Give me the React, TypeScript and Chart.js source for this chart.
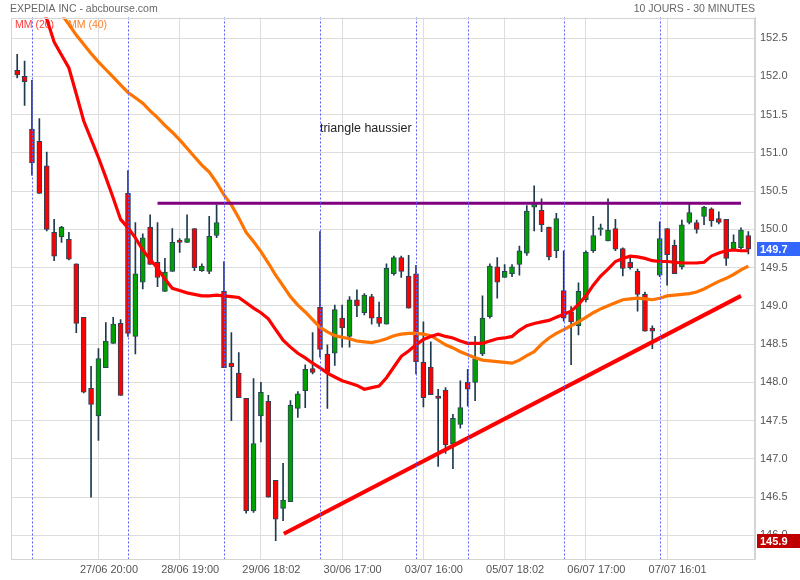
import React, { useEffect, useRef } from "react";
import { Chart, registerables } from "chart.js";

Chart.register(...registerables);

// ---- data (30-minute candles, 26/06 21:00 .. 07/07 21:30) ----
const opens = [
  152.08, 152.0, 151.31, 151.15, 150.83, 149.96, 149.9, 149.87, 149.55, 148.85,
  147.92, 147.56, 148.19, 148.51, 148.77, 150.47, 148.6, 149.31, 150.03, 149.57,
  149.19, 149.45, 149.86, 149.83, 150.01, 149.46, 149.45, 149.92, 149.19, 148.25,
  148.12, 147.79, 146.32, 147.56, 147.75, 146.72, 146.35, 146.44, 147.66, 147.89,
  148.18, 148.98, 148.37, 148.38, 148.84, 148.6, 149.08, 148.91, 149.12, 148.85,
  148.76, 149.42, 149.63, 149.39, 149.42, 148.26, 148.2, 147.82, 147.9, 147.19,
  147.45, 148.0, 148.0, 148.37, 148.86, 149.51, 149.37, 149.42, 149.54, 149.69,
  150.29, 150.25, 150.03, 149.72, 149.2, 148.92, 148.74, 149.08, 149.72, 150.0,
  149.85, 150.01, 149.75, 149.57, 149.45, 149.15, 148.71, 149.4, 150.01, 149.79,
  149.51, 150.09, 150.09, 150.17, 150.27, 150.14, 150.13, 149.74, 149.76, 149.92,
];
const highs = [
  152.29, 152.2, 151.95, 151.45, 151.01, 150.13, 150.04, 149.96, 149.55, 148.85,
  148.21, 148.44, 148.78, 148.85, 148.82, 150.77, 150.09, 149.94, 150.19, 150.09,
  149.62, 150.01, 149.88, 150.19, 150.01, 149.55, 150.17, 150.32, 149.58, 148.65,
  148.39, 147.79, 148.05, 148.0, 147.83, 146.72, 146.94, 147.76, 147.88, 148.23,
  148.65, 149.97, 148.49, 149.01, 149.01, 149.12, 149.21, 149.16, 149.15, 149.05,
  149.55, 149.65, 149.65, 149.66, 149.53, 148.79, 148.53, 147.91, 147.93, 147.58,
  148.02, 148.17, 148.6, 149.13, 149.55, 149.63, 149.54, 149.54, 149.78, 150.31,
  150.57, 150.4, 150.03, 150.21, 149.72, 148.99, 149.3, 149.72, 150.17, 150.07,
  150.4, 150.13, 149.76, 149.66, 149.48, 149.18, 148.74, 150.1, 150.01, 149.86,
  150.12, 150.33, 150.12, 150.3, 150.28, 150.23, 150.13, 149.93, 150.02, 149.97,
];
const lows = [
  151.98, 151.62, 150.71, 150.47, 149.98, 149.59, 149.83, 149.6, 148.65, 147.86,
  146.5, 147.24, 148.19, 148.51, 147.83, 148.6, 148.37, 149.22, 149.54, 149.25,
  149.19, 149.45, 149.7, 149.83, 149.46, 149.45, 149.42, 149.89, 148.19, 147.5,
  147.8, 146.29, 146.3, 147.22, 146.5, 145.93, 146.19, 146.44, 147.54, 147.67,
  148.11, 148.33, 147.66, 148.22, 148.46, 148.46, 148.86, 148.88, 148.76, 148.73,
  148.76, 149.4, 149.37, 148.97, 148.11, 147.68, 147.84, 146.9, 147.07, 146.87,
  147.4, 147.69, 147.76, 148.35, 148.84, 149.1, 149.37, 149.38, 149.4, 149.66,
  149.98, 149.97, 149.6, 149.63, 148.8, 148.23, 148.62, 149.05, 149.7, 149.92,
  149.85, 149.72, 149.39, 149.48, 148.93, 148.67, 148.44, 149.38, 149.27, 149.42,
  149.48, 150.07, 149.95, 150.06, 150.04, 150.07, 149.53, 149.72, 149.74, 149.68,
];
const closes = [
  152.02, 151.93, 150.87, 150.47, 150.0, 149.65, 150.03, 149.61, 148.77, 147.87,
  147.71, 148.31, 148.54, 148.76, 147.83, 148.64, 149.42, 149.89, 149.54, 149.37,
  149.44, 149.83, 149.83, 149.88, 149.5, 149.52, 149.91, 150.09, 148.19, 148.2,
  147.8, 146.32, 147.2, 147.87, 146.5, 146.21, 146.46, 147.7, 147.85, 148.17,
  148.13, 148.43, 148.13, 148.95, 148.71, 149.08, 149.0, 149.14, 148.84, 148.77,
  149.49, 149.63, 149.45, 148.97, 148.27, 147.8, 147.84, 147.79, 147.18, 147.53,
  147.67, 147.91, 148.31, 148.84, 149.52, 149.31, 149.45, 149.51, 149.72, 150.24,
  150.34, 150.06, 149.64, 150.14, 148.84, 148.79, 149.19, 149.7, 149.92, 150.02,
  149.99, 149.74, 149.49, 149.5, 149.15, 148.67, 148.67, 149.88, 149.67, 149.42,
  150.06, 150.22, 150.0, 150.29, 150.11, 150.09, 149.62, 149.83, 149.99, 149.74,
];
const ma20 = [
  153.6, 153.38, 153.17, 152.97, 152.75, 152.45, 152.28, 152.11, 151.77, 151.42,
  151.18, 150.94, 150.68, 150.41, 150.13, 150.02, 149.89, 149.73, 149.61, 149.49,
  149.35, 149.23, 149.2, 149.17, 149.15, 149.13, 149.13, 149.14, 149.13, 149.12,
  149.11, 149.04, 148.97, 148.91, 148.83, 148.69, 148.55, 148.46, 148.38, 148.32,
  148.25, 148.19, 148.12, 148.07, 148.02, 147.99, 147.96, 147.91, 147.93, 147.95,
  148.06, 148.2, 148.34, 148.41, 148.49, 148.56, 148.6, 148.63, 148.6, 148.58,
  148.54, 148.51, 148.51, 148.51, 148.54, 148.57, 148.58, 148.6, 148.68, 148.74,
  148.77, 148.79, 148.81, 148.85, 148.89, 148.93, 149.02, 149.13, 149.27, 149.39,
  149.48, 149.58, 149.62, 149.65, 149.64, 149.62, 149.59, 149.58, 149.58, 149.57,
  149.56, 149.56, 149.56, 149.57, 149.65, 149.69, 149.72, 149.73, 149.72, 149.72,
];
const ma40 = [
  153.62, 153.49, 153.35, 153.22, 153.09, 152.96, 152.81, 152.68, 152.54, 152.42,
  152.3, 152.19, 152.09, 151.99, 151.89, 151.79, 151.72, 151.65, 151.55, 151.46,
  151.36, 151.27, 151.17, 151.06, 150.95, 150.84, 150.75, 150.61, 150.45, 150.32,
  150.15, 149.96, 149.84, 149.71, 149.56, 149.4, 149.26, 149.12, 149.01, 148.92,
  148.82, 148.72, 148.66, 148.61, 148.59, 148.57, 148.54, 148.53, 148.52, 148.54,
  148.57, 148.61, 148.63, 148.64, 148.64, 148.63, 148.61, 148.55, 148.49, 148.45,
  148.4, 148.36, 148.32, 148.29, 148.28, 148.27, 148.26, 148.25, 148.29, 148.35,
  148.4, 148.5, 148.58, 148.64, 148.69, 148.74, 148.79, 148.85, 148.91, 148.96,
  149.0, 149.04, 149.08, 149.09, 149.1, 149.09, 149.08, 149.1, 149.13, 149.14,
  149.15, 149.16, 149.18, 149.22, 149.27, 149.32, 149.36, 149.41, 149.47, 149.52,
];

const xTickIndex = [11, 22, 33, 44, 55, 66, 77, 88];
const xTickLabels = [
  "27/06 20:00", "28/06 19:00", "29/06 18:02", "30/06 17:00",
  "03/07 16:00", "05/07 18:02", "06/07 17:00", "07/07 16:01",
];
const yTicks = [146.0, 146.5, 147.0, 147.5, 148.0, 148.5, 149.0, 149.5, 150.0, 150.5, 151.0, 151.5, 152.0, 152.5];
const daySeparators = [2, 15, 28, 41, 54, 61, 74, 87];
const resistanceLine = [{ x: 19, y: 150.34 }, { x: 98, y: 150.34 }];
const supportLine = [{ x: 36.1, y: 146.02 }, { x: 98, y: 149.13 }];
const annotation = { text: "triangle haussier", x: 47.2, y: 151.32 };

const X_MIN = -0.84;
const X_MAX = 99.9;
const Y_MIN = 145.69;
const Y_MAX = 152.77;

const FONT = '"Liberation Sans", Arial, sans-serif';

export default function App() {
  const ref = useRef<HTMLCanvasElement>(null);

  useEffect(() => {
    const canvas = ref.current;
    if (!canvas) return;
    const idx = opens.map((_, i) => i);
    const up = idx.map((i) => closes[i] >= opens[i]);
    const lastClose = closes[closes.length - 1];
    const minLow = Math.min(...lows);

    const overlay = {
      id: "overlay",
      beforeDatasetsDraw(chart: any) {
        const ctx = chart.ctx;
        ctx.save();
        ctx.font = `10.5px ${FONT}`;
        ctx.textBaseline = "middle";
        ctx.textAlign = "left";
        ctx.fillStyle = "#ff3b3b";
        ctx.fillText("MM (20)", 15, 25.5);
        ctx.fillStyle = "#ff7f2a";
        ctx.fillText("MM (40)", 68, 25.5);
        ctx.restore();
      },
      afterDatasetsDraw(chart: any) {
        const ctx = chart.ctx;
        const xs = chart.scales.x;
        const { top, bottom } = chart.chartArea;
        ctx.save();
        ctx.strokeStyle = "#5c5cff";
        ctx.lineWidth = 1;
        ctx.setLineDash([2, 2]);
        daySeparators.forEach((d) => {
          const px = Math.round(xs.getPixelForValue(d)) + 0.5;
          ctx.beginPath();
          ctx.moveTo(px, top);
          ctx.lineTo(px, bottom);
          ctx.stroke();
        });
        ctx.restore();
      },
      afterDraw(chart: any) {
        const ctx = chart.ctx;
        const xs = chart.scales.x;
        const ys = chart.scales.y;
        const { left, right, top, bottom } = chart.chartArea;
        ctx.save();
        // chart area frame
        ctx.strokeStyle = "#d4d4d4";
        ctx.lineWidth = 1;
        ctx.strokeRect(Math.round(left) + 0.5, Math.round(top) + 0.5, Math.round(right - left) - 1, Math.round(bottom - top) - 1);
        // header
        ctx.font = `10.5px ${FONT}`;
        ctx.fillStyle = "#666";
        ctx.textBaseline = "middle";
        ctx.textAlign = "left";
        ctx.fillText("EXPEDIA INC - abcbourse.com", 10, 9);
        ctx.textAlign = "right";
        ctx.fillText("10 JOURS - 30 MINUTES", right, 9);
        // annotation
        ctx.font = `12.5px ${FONT}`;
        ctx.fillStyle = "#222";
        ctx.textAlign = "center";
        ctx.fillText(annotation.text, xs.getPixelForValue(annotation.x), ys.getPixelForValue(annotation.y));
        // price tags
        const tag = (v: number, bg: string) => {
          const py = Math.round(ys.getPixelForValue(v));
          ctx.fillStyle = bg;
          ctx.fillRect(right + 2, py - 7, 800 - right - 2, 14);
          ctx.fillStyle = "#fff";
          ctx.font = `bold 11px ${FONT}`;
          ctx.textAlign = "left";
          ctx.fillText(v.toFixed(1), right + 5, py + 0.5);
        };
        tag(lastClose, "#3366ff");
        tag(minLow, "#c00000");
        ctx.restore();
      },
    };

    const chart = new Chart(canvas, {
      type: "bar",
      data: {
        datasets: [
          {
            type: "line",
            label: "support",
            data: supportLine,
            borderColor: "#ff0000",
            borderWidth: 4,
            pointRadius: 0,
            order: 0,
          } as any,
          {
            type: "line",
            label: "resistance",
            data: resistanceLine,
            borderColor: "#800080",
            borderWidth: 3,
            pointRadius: 0,
            order: 1,
          } as any,
          {
            type: "line",
            label: "MM (20)",
            data: ma20.map((y, i) => ({ x: i, y })),
            borderColor: "#ff0000",
            borderWidth: 3.2,
            pointRadius: 0,
            order: 2,
          } as any,
          {
            type: "line",
            label: "MM (40)",
            data: ma40.map((y, i) => ({ x: i, y })),
            borderColor: "#ff7400",
            borderWidth: 3.2,
            pointRadius: 0,
            order: 3,
          } as any,
          {
            type: "bar",
            label: "bodies",
            data: idx.map((i) => ({ x: i, y: [opens[i], closes[i]] })),
            backgroundColor: idx.map((i) => (up[i] ? "#00a000" : "#ff0000")),
            borderColor: "#2a4358",
            borderWidth: 1,
            borderSkipped: false,
            barThickness: 5,
            grouped: false,
            order: 4,
          } as any,
          {
            type: "bar",
            label: "wicks",
            data: idx.map((i) => ({ x: i, y: [lows[i], highs[i]] })),
            backgroundColor: "#1d3a4f",
            borderWidth: 0,
            barThickness: 1,
            grouped: false,
            order: 5,
          } as any,
        ],
      },
      options: {
        responsive: false,
        animation: false,
        events: [],
        layout: { padding: { left: 11, top: 17.5, right: 0, bottom: 0 } },
        plugins: { legend: { display: false }, tooltip: { enabled: false } },
        scales: {
          x: {
            type: "linear",
            min: X_MIN,
            max: X_MAX,
            offset: false,
            afterBuildTicks: (s: any) => {
              s.ticks = xTickIndex.map((v) => ({ value: v }));
            },
            afterFit: (s: any) => {
              s.height = 21;
            },
            ticks: {
              autoSkip: false,
              maxRotation: 0,
              minRotation: 0,
              labelOffset: 10.5,
              padding: 4,
              color: "#555",
              font: { size: 11, family: FONT },
              callback: (v: any) => {
                const k = xTickIndex.indexOf(Number(v));
                return k >= 0 ? xTickLabels[k] : "";
              },
            },
            grid: { color: "#dddddd", drawTicks: false, offset: false },
            border: { color: "#d4d4d4" },
          },
          y: {
            type: "linear",
            position: "right",
            min: Y_MIN,
            max: Y_MAX,
            beginAtZero: false,
            afterBuildTicks: (s: any) => {
              s.ticks = yTicks.map((v) => ({ value: v }));
            },
            afterFit: (s: any) => {
              s.width = 45;
            },
            ticks: {
              padding: 5,
              color: "#555",
              font: { size: 11, family: FONT },
              callback: (v: any) => Number(v).toFixed(1),
            },
            grid: { color: "#dddddd", drawTicks: false },
            border: { color: "#d4d4d4" },
          },
        },
      } as any,
      plugins: [overlay],
    });

    return () => {
      chart.destroy();
    };
  }, []);

  return (
    <div style={{ position: "absolute", left: 0, top: 0, width: 800, height: 580, background: "#fff" }}>
      <canvas ref={ref} width={800} height={580} style={{ display: "block" }} />
    </div>
  );
}
